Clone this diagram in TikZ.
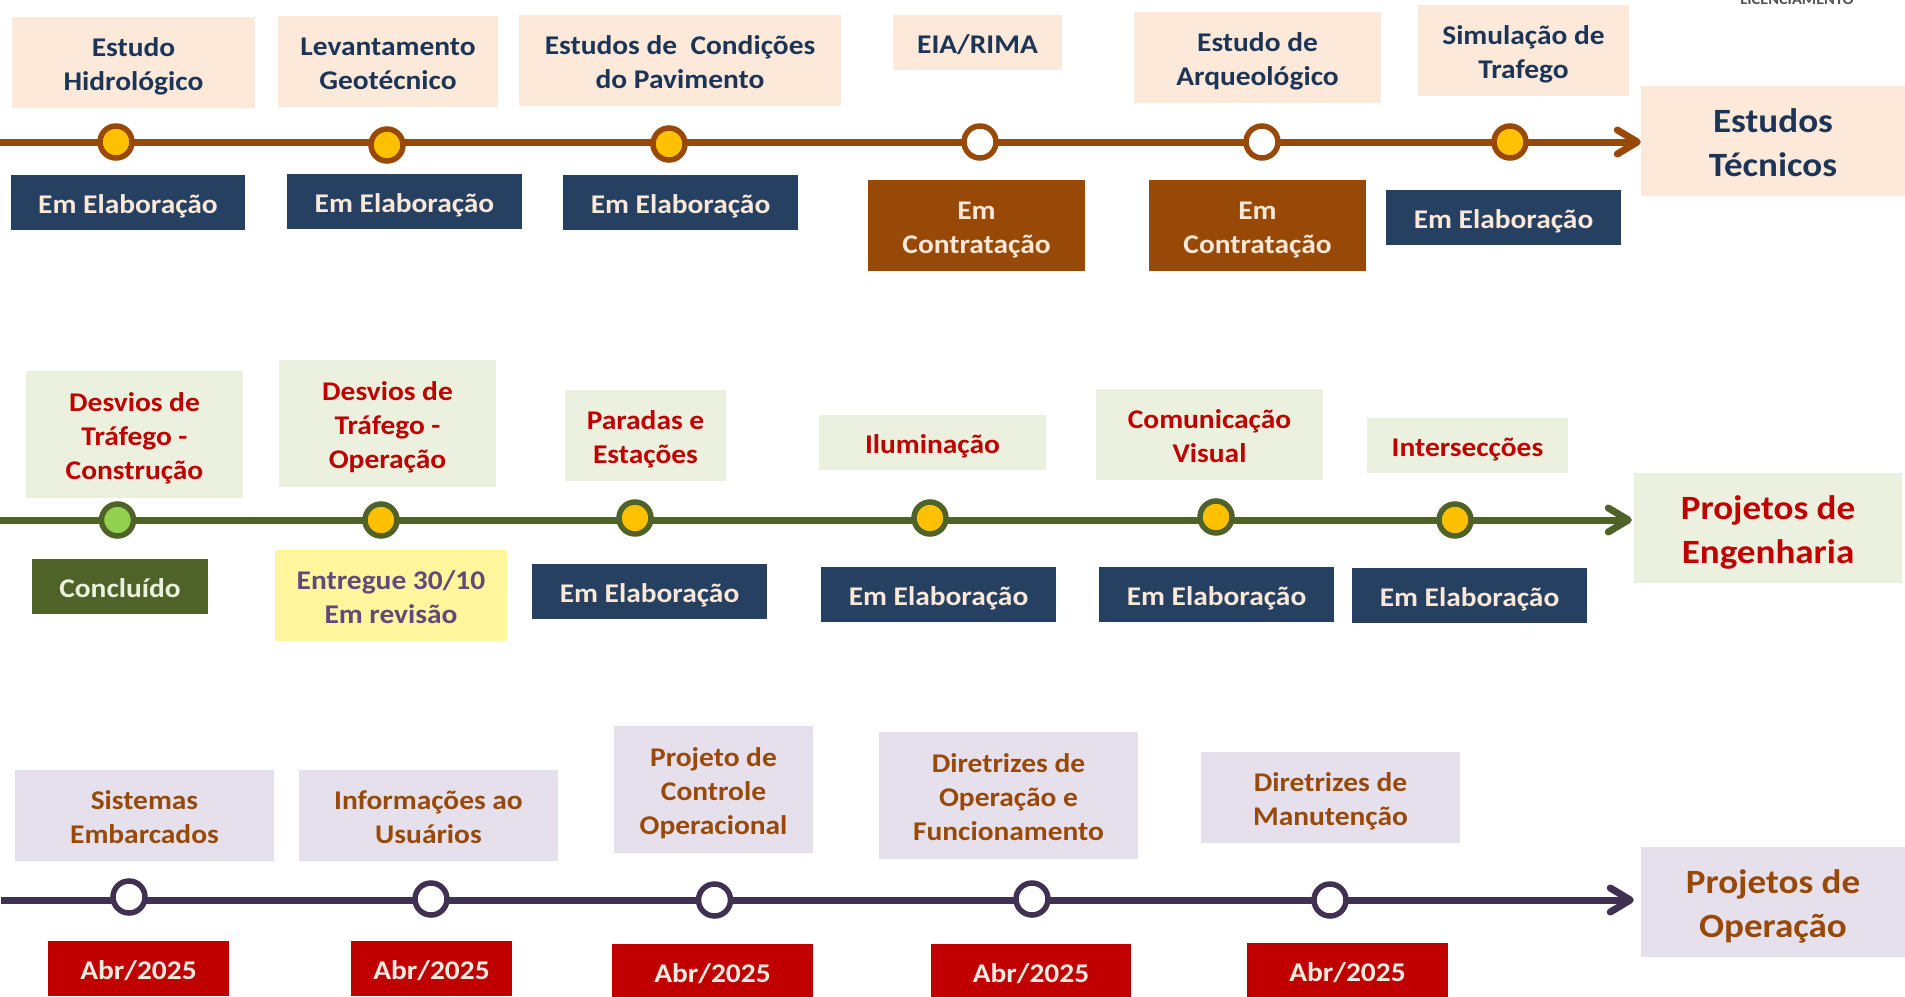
\documentclass[tikz,border=0pt]{standalone}
\usepackage{fontspec}
\setmainfont{Carlito}[FakeStretch=1.09]
\usetikzlibrary{arrows.meta}
\definecolor{peach}{HTML}{FDE9D9}
\definecolor{navytxt}{HTML}{1C3557}
\definecolor{navyfill}{HTML}{254061}
\definecolor{cream}{HTML}{FBE8D8}
\definecolor{brownc}{HTML}{984807}
\definecolor{goldc}{HTML}{FFC000}
\definecolor{olivec}{HTML}{4F6228}
\definecolor{lgreen}{HTML}{EBF1DE}
\definecolor{redc}{HTML}{C00000}
\definecolor{brightgreen}{HTML}{92D050}
\definecolor{lyellow}{HTML}{FFF59D}
\definecolor{purpletxt}{HTML}{604A7B}
\definecolor{lavender}{HTML}{E5E0EC}
\definecolor{purplec}{HTML}{403152}
\definecolor{creamb}{HTML}{EEECE1}
\definecolor{licgray}{HTML}{505050}
\newcommand\mybody{\fontsize{27}{34}\selectfont\bfseries}
\newcommand\mytitle{\fontsize{34}{44}\selectfont\bfseries}
\newcommand\stt{\rule[-0.215em]{0pt}{1.215em}}
\tikzset{
  box/.style={inner sep=0pt, align=center, font=\mybody, anchor=center,
    execute at end node={\stt}},
  sz/.style 2 args={minimum width=#1pt, minimum height=#2pt},
  peachbox/.style={box, fill=peach, text=navytxt},
  navybox/.style={box, fill=navyfill, text=cream},
  brownbox/.style={box, fill=brownc, text=cream},
  greenbox/.style={box, fill=lgreen, text=redc},
  olivebox/.style={box, fill=olivec, text=lgreen},
  yellowbox/.style={box, fill=lyellow, text=purpletxt},
  lavbox/.style={box, fill=lavender, text=brownc},
  redbox/.style={box, fill=redc, text=creamb},
  titlebox/.style={box, font=\mytitle},
  dot/.style={circle, line width=5.5pt, minimum size=32pt, inner sep=0pt},
  tline/.style={line width=7pt, -{Straight Barb[length=20pt,width=24pt,round]}}
}
\begin{document}
\begin{tikzpicture}[x=1pt,y=-1pt]
\clip (0,0) rectangle (1905,996);

\node[font=\fontsize{15}{18}\selectfont\bfseries, text=licgray, anchor=base, inner sep=0pt] (lic) at (1797,4) {LICENCIAMENTO};

% ---------- Row 1: Estudos Tecnicos ----------
\node[peachbox, sz={243}{91}] (a1) at (133.5,62.5) {\stt Estudo\\Hidrológico};
\node[peachbox, sz={220}{91}] (a2) at (388,61.5) {\stt Levantamento\\Geotécnico};
\node[peachbox, sz={322}{91}] (a3) at (680,60.5) {\stt Estudos de~ Condições\\do Pavimento};
\node[peachbox, sz={169}{55}] (a4) at (977.5,42.5) {\stt EIA/RIMA};
\node[peachbox, sz={247}{91}] (a5) at (1257.5,57.5) {\stt Estudo de\\Arqueológico};
\node[peachbox, sz={211}{91}] (a6) at (1523.5,50.5) {\stt Simulação de\\Trafego};
\node[peachbox, titlebox, sz={264}{110}] (t1) at (1773,141) {\stt Estudos\\Técnicos};

\coordinate (s1) at (0,142);
\draw[tline, brownc, shorten >=0pt] (s1) -- (s1 -| t1.west);

\node[dot, draw=brownc, fill=goldc] (c11) at (116,142) {};
\node[dot, draw=brownc, fill=goldc] (c12) at (387,145) {};
\node[dot, draw=brownc, fill=goldc] (c13) at (669,144) {};
\node[dot, draw=brownc, fill=white] (c14) at (980,142) {};
\node[dot, draw=brownc, fill=white] (c15) at (1262,142) {};
\node[dot, draw=brownc, fill=goldc] (c16) at (1510,142) {};

\node[navybox, sz={234}{55}] (b1) at (128,202.5) {\stt Em Elaboração};
\node[navybox, sz={235}{55}] (b2) at (404.5,201.5) {\stt Em Elaboração};
\node[navybox, sz={235}{55}] (b3) at (680.5,202.5) {\stt Em Elaboração};
\node[brownbox, sz={217}{91}] (b4) at (976.5,225.5) {\stt Em\\Contratação};
\node[brownbox, sz={217}{91}] (b5) at (1257.5,225.5) {\stt Em\\Contratação};
\node[navybox, sz={235}{55}] (b6) at (1503.5,217.5) {\stt Em Elaboração};

% ---------- Row 2: Projetos de Engenharia ----------
\node[greenbox, sz={217}{127}] (d1) at (134.5,434.5) {\stt Desvios de\\Tráfego -\\Construção};
\node[greenbox, sz={217}{127}] (d2) at (387.5,423.5) {\stt Desvios de\\Tráfego -\\Operação};
\node[greenbox, sz={161}{91}] (d3) at (645.5,435.5) {\stt Paradas e\\Estações};
\node[greenbox, sz={227}{55}] (d4) at (932.5,442.5) {\stt Iluminação};
\node[greenbox, sz={227}{91}] (d5) at (1209.5,434.5) {\stt Comunicação\\Visual};
\node[greenbox, sz={201}{55}] (d6) at (1467.5,445.5) {\stt Intersecções};
\node[greenbox, titlebox, sz={268}{110}] (t2) at (1768,528) {\stt Projetos de\\Engenharia};

\coordinate (s2) at (0,520);
\draw[tline, olivec, shorten >=2pt] (s2) -- (s2 -| t2.west);

\node[dot, draw=olivec, fill=brightgreen] (c21) at (117.5,520) {};
\node[dot, draw=olivec, fill=goldc] (c22) at (381,520) {};
\node[dot, draw=olivec, fill=goldc] (c23) at (635,518) {};
\node[dot, draw=olivec, fill=goldc] (c24) at (930,518) {};
\node[dot, draw=olivec, fill=goldc] (c25) at (1216,517) {};
\node[dot, draw=olivec, fill=goldc] (c26) at (1455,520) {};

\node[olivebox, sz={176}{55}] (e1) at (120,586.5) {\stt Concluído};
\node[yellowbox, sz={232}{91}] (e2) at (391,595.5) {\stt Entregue 30/10\\Em revisão};
\node[navybox, sz={235}{55}] (e3) at (649.5,591.5) {\stt Em Elaboração};
\node[navybox, sz={235}{55}] (e4) at (938.5,594.5) {\stt Em Elaboração};
\node[navybox, sz={235}{55}] (e5) at (1216.5,594.5) {\stt Em Elaboração};
\node[navybox, sz={235}{55}] (e6) at (1469.5,595.5) {\stt Em Elaboração};

% ---------- Row 3: Projetos de Operacao ----------
\node[lavbox, sz={259}{91}] (f1) at (144.5,815.5) {\stt Sistemas\\Embarcados};
\node[lavbox, sz={259}{91}] (f2) at (428.5,815.5) {\stt Informações ao\\Usuários};
\node[lavbox, sz={199}{127}] (f3) at (713.5,789.5) {\stt Projeto de\\Controle\\Operacional};
\node[lavbox, sz={259}{127}] (f4) at (1008.5,795.5) {\stt Diretrizes de\\Operação e\\Funcionamento};
\node[lavbox, sz={259}{91}] (f5) at (1330.5,797.5) {\stt Diretrizes de\\Manutenção};
\node[lavbox, titlebox, sz={264}{110}] (t3) at (1773,902) {\stt Projetos de\\Operação};

\coordinate (s3) at (1,900);
\draw[tline, purplec, shorten >=7pt] (s3) -- (s3 -| t3.west);

\node[dot, draw=purplec, fill=white] (c31) at (129,897) {};
\node[dot, draw=purplec, fill=white] (c32) at (431,899) {};
\node[dot, draw=purplec, fill=white] (c33) at (714.5,900) {};
\node[dot, draw=purplec, fill=white] (c34) at (1032,899) {};
\node[dot, draw=purplec, fill=white] (c35) at (1330,900) {};

\node[redbox, sz={181}{55}] (g1) at (138.5,968.5) {\stt Abr/2025};
\node[redbox, sz={161}{55}] (g2) at (431.5,968.5) {\stt Abr/2025};
\node[redbox, sz={201}{55}] (g3) at (712.5,971.5) {\stt Abr/2025};
\node[redbox, sz={200}{55}] (g4) at (1031,971.5) {\stt Abr/2025};
\node[redbox, sz={201}{55}] (g5) at (1347.5,970.5) {\stt Abr/2025};
\end{tikzpicture}
\end{document}
